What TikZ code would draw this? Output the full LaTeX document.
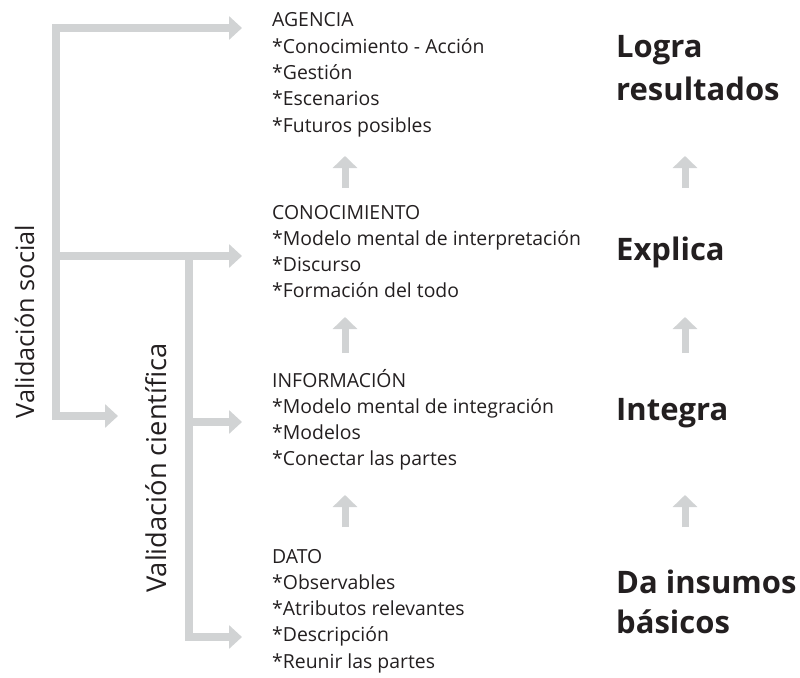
\documentclass[tikz,border=0pt]{standalone}
\usepackage{fontspec}
\setmainfont{Open Sans}
\usetikzlibrary{arrows.meta}
\definecolor{linegray}{RGB}{209,211,212}
\definecolor{txt}{RGB}{35,31,32}
\tikzset{
  conn/.style={draw=linegray, line width=8pt, line join=miter},
  hhead/.style={-{Triangle[length=13pt,width=23pt]}},
  uparrow/.style={draw=linegray, line width=7pt, -{Triangle[length=12pt,width=24pt]}},
  item/.style={anchor=base west, inner sep=0pt, text=txt, font=\fontsize{19.4pt}{23pt}\selectfont},
  big/.style={anchor=base west, inner sep=0pt, text=txt, font=\fontsize{31pt}{36pt}\selectfont\bfseries},
  vlabel/.style={anchor=base, inner sep=0pt, text=txt, rotate=90}
}
\begin{document}
\begin{tikzpicture}[x=1pt,y=-1pt]
\useasboundingbox (0,0) rectangle (800,677);
% coordinates of connectors
\coordinate (sTop) at (56,28);
\coordinate (sMid) at (56,256);
\coordinate (sBot) at (56,416);
\coordinate (tAg) at (242,28);
\coordinate (tCo) at (242,256);
\coordinate (tVc) at (118,416);
\coordinate (cTop) at (189,256);
\coordinate (cMid) at (189,422);
\coordinate (cBot) at (189,637);
\coordinate (tIn) at (242,422);
\coordinate (tDa) at (242,637);
% social bracket
\draw[conn,{Triangle[length=13pt,width=23pt]}-{Triangle[length=13pt,width=23pt]}] (tAg) -- (sTop) -- (sBot) -- (tVc);
\draw[conn,hhead] (sMid) -- (tCo);
% cientifica bracket
\draw[conn,hhead] (cTop) -- (cBot) -- (tDa);
\draw[conn,hhead] (cMid) -- (tIn);
% up arrows
\foreach \x/\n in {345/l,685/r}{
  \coordinate (\n1a) at (\x,188); \coordinate (\n1b) at (\x,156);
  \coordinate (\n2a) at (\x,353); \coordinate (\n2b) at (\x,317);
  \coordinate (\n3a) at (\x,527); \coordinate (\n3b) at (\x,495);
  \draw[uparrow] (\n1a) -- (\n1b);
  \draw[uparrow] (\n2a) -- (\n2b);
  \draw[uparrow] (\n3a) -- (\n3b);
}
% labels
\node[vlabel, font=\fontsize{25.3pt}{30pt}\selectfont] (vsoc) at (34,321.5) {Validación social};
\node[vlabel, font=\fontsize{27.3pt}{32pt}\selectfont] (vcie) at (166,468) {Validación científica};
% AGENCIA
\node[item] (ag0) at (272,27) {AGENCIA};
\node[item] (ag1) at (272,53.3) {*Conocimiento - Acción};
\node[item] (ag2) at (272,79.6) {*Gestión};
\node[item] (ag3) at (272,105.9) {*Escenarios};
\node[item] (ag4) at (272,132.2) {*Futuros posibles};
% CONOCIMIENTO
\node[item] (co0) at (272,219) {CONOCIMIENTO};
\node[item] (co1) at (272,245.3) {*Modelo mental de interpretación};
\node[item] (co2) at (272,271.6) {*Discurso};
\node[item] (co3) at (272,297.9) {*Formación del todo};
% INFORMACION
\node[item] (in0) at (272,387) {INFORMACIÓN};
\node[item] (in1) at (272,413.3) {*Modelo mental de integración};
\node[item] (in2) at (272,439.6) {*Modelos};
\node[item] (in3) at (272,465.9) {*Conectar las partes};
% DATO
\node[item] (da0) at (272,563) {DATO};
\node[item] (da1) at (272,589.3) {*Observables};
\node[item] (da2) at (272,615.6) {*Atributos relevantes};
\node[item] (da3) at (272,641.9) {*Descripción};
\node[item] (da4) at (272,668.2) {*Reunir las partes};
% right column
\node[big] (b1) at (616,57) {Logra};
\node[big] (b2) at (616,100) {resultados};
\node[big] (b3) at (616,260) {Explica};
\node[big] (b4) at (616,420) {Integra};
\node[big] (b5) at (616,593) {Da insumos};
\node[big] (b6) at (616,633) {básicos};
\end{tikzpicture}
\end{document}
